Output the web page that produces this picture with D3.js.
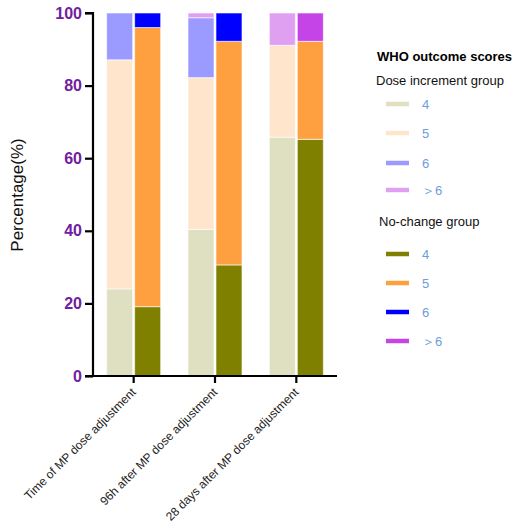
<!DOCTYPE html>
<html>
<head>
<meta charset="utf-8">
<script src="https://cdn.jsdelivr.net/npm/d3@7"></script>
<style>
  body { margin: 0; background: #fff; }
  svg { font-family: Arial, "Liberation Sans", sans-serif; }
</style>
</head>
<body>
<svg id="chart" width="519" height="528"></svg>
<script>
// timepoints on the x axis
const timepoints = ['Time of MP dose adjustment', '96h after MP dose adjustment', '28 days after MP dose adjustment'];
const scores = ['4', '5', '6', '>6'];

// percentages per score, one value per timepoint
const doseIncrement4 = [24, 40.4, 65.8];
const doseIncrement5 = [63.1, 41.8, 25.3];
const doseIncrement6 = [12.9, 16.5, 0];
const doseIncrementGt6 = [0, 1.3, 8.9];

const noChange4 = [19.1, 30.6, 65.2];
const noChange5 = [76.9, 61.6, 27];
const noChange6 = [4, 7.8, 0];
const noChangeGt6 = [0, 0, 7.8];

const yTicks = [0, 20, 40, 60, 80, 100];

const doseColors = ['#dfdfc1', '#ffe5cc', '#9a9aff', '#e0a0f2'];
const noChangeColors = ['#808000', '#ffa040', '#0000ff', '#c444e8'];

let groups = [
    {key: 'dose', label: 'Dose increment group', colors: doseColors,
     series: [doseIncrement4, doseIncrement5, doseIncrement6, doseIncrementGt6]},
    {key: 'nochange', label: 'No-change group', colors: noChangeColors,
     series: [noChange4, noChange5, noChange6, noChangeGt6]}
];

const svg = d3.select('#chart');

let x = d3.scaleBand().domain(timepoints).range([93, 337]);
let x1 = d3.scaleBand().domain(groups.map(g => g.key)).range([-27, 27]).paddingInner(0.07);
let y = d3.scaleLinear().domain([0, 100]).range([376, 13]);

// stacked bars
groups.forEach(function (g) {
    let rows = timepoints.map(function (t, i) {
        let r = {time: t};
        scores.forEach((s, j) => r[s] = g.series[j][i]);
        return r;
    });
    let stacked = d3.stack().keys(scores)(rows);

    svg.append('g')
       .selectAll('g')
       .data(stacked)
       .join('g')
       .attr('fill', (d, j) => g.colors[j])
       .selectAll('rect')
       .data(d => d.filter(p => p[1] - p[0] > 0))
       .join('rect')
       .attr('x', d => x(d.data.time) + x.bandwidth() / 2 + x1(g.key))
       .attr('width', x1.bandwidth())
       .attr('y', d => y(d[1]))
       .attr('height', d => y(d[0]) - y(d[1]))
       .attr('stroke', '#fff')
       .attr('stroke-opacity', 0.6)
       .attr('stroke-width', 1);
});

// axes
let yAxis = svg.append('g')
    .attr('transform', 'translate(93,0)')
    .call(d3.axisLeft(y).tickValues(yTicks).tickSize(8).tickPadding(3));
yAxis.select('.domain').attr('stroke', '#000').attr('stroke-width', 2.2).attr('d', 'M-8,13H0V376');
yAxis.selectAll('.tick line').attr('stroke', '#000').attr('stroke-width', 2.2);
yAxis.selectAll('.tick text')
     .attr('fill', '#7020a0')
     .style('font-size', '16px')
     .style('font-weight', 'bold');

let xAxis = svg.append('g')
    .attr('transform', 'translate(0,376)')
    .call(d3.axisBottom(x).tickSize(7).tickSizeOuter(0));
xAxis.select('.domain').attr('stroke', '#000').attr('stroke-width', 2.2).attr('d', 'M85,0H337');
xAxis.selectAll('.tick line').attr('stroke', '#000').attr('stroke-width', 2.2);
xAxis.selectAll('.tick text')
     .attr('fill', '#222')
     .style('font-size', '12px')
     .attr('text-anchor', 'end')
     .attr('y', 0)
     .attr('dy', null)
     .attr('transform', 'translate(3,17) rotate(-45)');

svg.append('text')
   .attr('transform', 'translate(23,195) rotate(-90)')
   .attr('text-anchor', 'middle')
   .style('font-size', '17px')
   .attr('fill', '#111')
   .text('Percentage(%)');

// legend
let legend = svg.append('g');
legend.append('text')
      .attr('x', 377).attr('y', 61)
      .style('font-size', '13px').style('font-weight', 'bold')
      .text('WHO outcome scores');

let headerY = [85, 226];
let itemY = [[104, 133, 163, 190], [254, 283, 312, 341]];

groups.forEach(function (g, gi) {
    legend.append('text')
          .attr('x', gi == 0 ? 376 : 379).attr('y', headerY[gi])
          .style('font-size', '13px')
          .attr('fill', '#111')
          .text(g.label);
    let items = legend.selectAll('g.item' + gi)
        .data(scores)
        .join('g')
        .attr('transform', (d, j) => 'translate(0,' + itemY[gi][j] + ')');
    items.append('line')
         .attr('x1', 386).attr('x2', 409)
         .attr('stroke', (d, j) => g.colors[j])
         .attr('stroke-width', 4.5);
    items.append('text')
         .attr('x', 422).attr('y', 5)
         .style('font-size', '13px')
         .attr('fill', '#6d9ed8')
         .text(d => d == '>6' ? '\uFF1E6' : d);
});
</script>
</body>
</html>
